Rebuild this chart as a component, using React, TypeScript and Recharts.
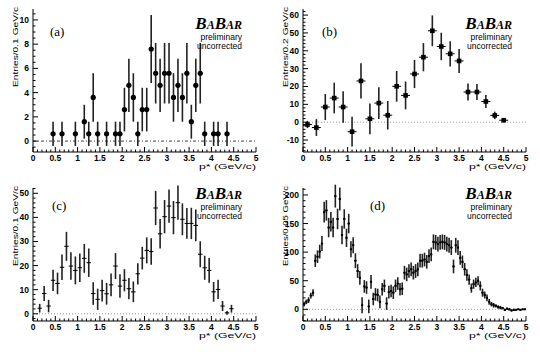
import React from 'react';
import { ScatterChart, Scatter, XAxis, YAxis, ErrorBar, ReferenceLine } from 'recharts';

// (a) Entries / 0.1 GeV/c
const aX = [0.45, 0.65, 0.95, 1.15, 1.25, 1.35, 1.45, 1.65, 1.85, 1.95, 2.05, 2.15, 2.25, 2.35, 2.45, 2.55, 2.65, 2.75, 2.85, 2.95, 3.05, 3.15, 3.25, 3.35, 3.45, 3.55, 3.65, 3.75, 3.85, 4.05, 4.15, 4.35];
const aY = [0.6, 0.6, 0.6, 1.6, 0.6, 3.6, 0.6, 0.6, 0.6, 0.6, 2.6, 4.6, 3.6, 0.6, 2.6, 2.6, 7.6, 5.6, 4.6, 5.6, 5.6, 3.6, 4.6, 3.6, 5.6, 1.6, 4.6, 5.6, 0.6, 0.6, 0.6, 0.6];
const aErr = [1.0, 1.0, 1.0, 1.4, 1.0, 2.0, 1.0, 1.0, 1.0, 1.0, 1.8, 2.2, 2.0, 1.0, 1.8, 1.8, 2.8, 2.5, 2.2, 2.5, 2.5, 2.0, 2.2, 2.0, 2.5, 1.4, 2.2, 2.5, 1.0, 1.0, 1.0, 1.0];

// (b) Entries / 0.2 GeV/c
const bX = [0.1, 0.3, 0.5, 0.7, 0.9, 1.1, 1.3, 1.5, 1.7, 1.9, 2.1, 2.3, 2.5, 2.7, 2.9, 3.1, 3.3, 3.5, 3.7, 3.9, 4.1, 4.3, 4.5];
const bY = [-1.3, -3, 8.5, 13.5, 8.5, -5.3, 23.1, 1.9, 10.7, 3.9, 20.1, 15, 27, 36.4, 51.2, 42.4, 38.3, 34.3, 16.9, 16.9, 11.6, 3.8, 1.1];
const bErr = [2, 4.7, 7.3, 8.6, 8.8, 8.3, 9.9, 8.6, 8.9, 8, 8.6, 7.8, 7.9, 7.9, 8.6, 7.7, 7.1, 6.7, 4.7, 4.5, 3.6, 2.1, 1.2];

// (c) Entries / 0.1 GeV/c
const cX = [0.15, 0.25, 0.35, 0.45, 0.55, 0.65, 0.75, 0.85, 0.95, 1.05, 1.15, 1.25, 1.35, 1.45, 1.55, 1.65, 1.75, 1.85, 1.95, 2.05, 2.15, 2.25, 2.35, 2.45, 2.55, 2.65, 2.75, 2.85, 2.95, 3.05, 3.15, 3.25, 3.35, 3.45, 3.55, 3.65, 3.75, 3.85, 3.95, 4.05, 4.15, 4.25, 4.35, 4.45];
const cY = [2.3, 8.4, 3.2, 13.9, 12.6, 19.3, 28, 19.8, 18, 19.1, 23, 21.2, 8.4, 6, 9.6, 8.3, 12, 19.8, 11.5, 13.9, 10.4, 9.1, 16.6, 23.1, 26.3, 25.8, 43.9, 33.2, 40.3, 44.7, 39.9, 46.1, 39.2, 37.5, 37.5, 36.7, 24.7, 19.1, 18, 9.1, 10.1, 3.2, 0.4, 2.1];
const cErr = [1.8, 3.1, 2.6, 4.4, 4.5, 5.3, 6, 5.7, 5.8, 5.9, 6, 5.9, 4.7, 4.4, 4.5, 4.5, 4.7, 5.4, 4.9, 4.6, 4.4, 4.3, 4.4, 4.7, 5.4, 5.5, 7.1, 6.1, 6.9, 6.9, 6.9, 7.1, 6.6, 6.4, 6.5, 6.6, 5.4, 5, 5.1, 4.1, 4, 2.1, 0.8, 1.6];

// (d) Entries / 0.05 GeV/c, bins from 0 to 5
const dY = [
  9, 13, 16, 24, 29, 85, 92, 101, 115, 170,
  173, 143, 153, 143, 198, 158, 193, 130, 158, 125,
  150, 105, 112, 85, 67, 55, 7, 40, 38, 5,
  48, 18, 26, 25, 13, 35, 41, 10, 30, 32,
  29, 41, 45, 35, 36, 64, 61, 67, 70, 64,
  67, 70, 85, 85, 87, 83, 93, 96, 118, 117,
  114, 117, 118, 117, 114, 112, 108, 75, 112, 108,
  90, 83, 70, 60, 52, 37, 44, 47, 50, 41,
  29, 25, 20, 13, 9, 7, 6, 4, 3, 2,
  -1, 1, 0, -2, -1, -1, 0, -1, 0, 0,
];
const dErr = [
  4, 4, 5, 5, 6, 11, 11, 12, 13, 18,
  18, 17, 17, 17, 20, 18, 20, 16, 17, 16,
  17, 14, 14, 13, 12, 12, 14, 11, 11, 12,
  12, 11, 11, 11, 11, 11, 11, 11, 11, 11,
  11, 11, 11, 11, 11, 12, 12, 12, 12, 12,
  12, 12, 12, 12, 12, 12, 12, 12, 13, 13,
  13, 13, 13, 13, 13, 13, 13, 12, 13, 13,
  12, 11, 11, 10, 9, 8, 8, 8, 8, 8,
  7, 6, 6, 5, 4, 4, 3, 3, 3, 2,
  2, 2, 2, 2, 2, 1, 1, 1, 1, 1,
];
const dX = dY.map((_, i) => 0.025 + 0.05 * i);

const xTicks = Array.from({ length: 51 }, (_, i) => i / 10);

const W = 270;
const H = 176;
const SANS = '"Liberation Sans", Arial, sans-serif';
const SERIF = '"Liberation Serif", "Times New Roman", serif';

const onStep = (v: number, step: number) => Math.abs(v / step - Math.round(v / step)) < 1e-6;
const fmt = (v: number) => String(+v.toFixed(2));

const makeTicks = (lo: number, hi: number, step: number) => {
  const out: number[] = [];
  for (let v = Math.ceil(lo / step) * step; v <= hi + 1e-9; v += step) out.push(+v.toFixed(4));
  return out;
};

const BottomTick = (props: any) => {
  const { x, y, payload } = props;
  const major = onStep(payload.value, 0.5);
  return (
    <g>
      <line x1={x} x2={x} y1={y} y2={y - (major ? 5 : 2.5)} stroke="#000" strokeWidth={1} />
      {major && (
        <text x={x} y={y + 8.5} textAnchor="middle" fontSize={8.5} fontWeight="bold" fontFamily={SANS} fill="#000">
          {fmt(payload.value)}
        </text>
      )}
    </g>
  );
};

const TopTick = (props: any) => {
  const { x, y, payload } = props;
  const major = onStep(payload.value, 0.5);
  return <line x1={x} x2={x} y1={y} y2={y + (major ? 5 : 2.5)} stroke="#000" strokeWidth={1} />;
};

const makeLeftTick = (majorStep: number) => (props: any) => {
  const { x, y, payload } = props;
  const major = onStep(payload.value, majorStep);
  return (
    <g>
      <line x1={x} x2={x + (major ? 5 : 2.5)} y1={y} y2={y} stroke="#000" strokeWidth={1} />
      {major && (
        <text x={x - 4} y={y + 3} textAnchor="end" fontSize={8.5} fontWeight="bold" fontFamily={SANS} fill="#000">
          {fmt(payload.value)}
        </text>
      )}
    </g>
  );
};

const makeRightTick = (majorStep: number) => (props: any) => {
  const { x, y, payload } = props;
  const major = onStep(payload.value, majorStep);
  return <line x1={x} x2={x - (major ? 5 : 2.5)} y1={y} y2={y} stroke="#000" strokeWidth={1} />;
};

const shapes: Record<string, (p: any) => React.ReactElement> = {
  circle: (p) => <circle cx={p.cx} cy={p.cy} r={2.6} fill="#000" />,
  square: (p) => <rect x={p.cx - 2.3} y={p.cy - 2.3} width={4.6} height={4.6} fill="#000" />,
  dot: (p) => <rect x={p.cx - 1} y={p.cy - 1} width={2} height={2} fill="#000" />,
  none: () => <g />,
};

type PanelProps = {
  left: number;
  top: number;
  xs: number[];
  ys: number[];
  errs: number[];
  halfWidth: number;
  yDomain: [number, number];
  yStep: number;
  yMajor: number;
  marker: string;
  tag: string;
  tagX: number;
  tagY: number;
  logoY: number;
  yTitle: string;
  marginTop: number;
  axisH: number;
  zeroDash: string;
  zeroColor: string;
};

const Panel = (p: PanelProps) => {
  const data = p.xs.map((x, i) => ({ x, y: p.ys[i], ey: p.errs[i], ex: p.halfWidth }));
  const yTicks = makeTicks(p.yDomain[0], p.yDomain[1], p.yStep);
  const plotBottom = H - p.axisH;
  return (
    <div style={{ position: 'absolute', left: p.left, top: p.top, width: W, height: H }}>
      <ScatterChart width={W} height={H} margin={{ top: p.marginTop, right: 14, bottom: 0, left: 0 }}>
        <XAxis xAxisId="b" type="number" dataKey="x" domain={[0, 5]} ticks={xTicks} interval={0}
          tickSize={0} tickMargin={0} tickLine={false} tick={BottomTick} height={p.axisH} stroke="#000" allowDataOverflow />
        <XAxis xAxisId="t" orientation="top" type="number" domain={[0, 5]} ticks={xTicks} interval={0}
          tickSize={0} tickMargin={0} tickLine={false} tick={TopTick} height={0} stroke="#000" allowDataOverflow />
        <YAxis yAxisId="l" type="number" dataKey="y" domain={p.yDomain} ticks={yTicks} interval={0}
          tickSize={0} tickMargin={0} tickLine={false} tick={makeLeftTick(p.yMajor)} width={33} stroke="#000" allowDataOverflow />
        <YAxis yAxisId="r" orientation="right" type="number" domain={p.yDomain} ticks={yTicks} interval={0}
          tickSize={0} tickMargin={0} tickLine={false} tick={makeRightTick(p.yMajor)} width={0} stroke="#000" allowDataOverflow />
        <ReferenceLine xAxisId="b" yAxisId="l" y={0} stroke={p.zeroColor} strokeDasharray={p.zeroDash} strokeWidth={1} />
        <Scatter xAxisId="b" yAxisId="l" data={data} dataKey="y" shape={shapes[p.marker]} isAnimationActive={false}>
          <ErrorBar dataKey="ey" direction="y" width={0} stroke="#222" strokeWidth={1.6} isAnimationActive={false} />
          <ErrorBar dataKey="ex" direction="x" width={0} stroke="#000" strokeWidth={1} isAnimationActive={false} />
        </Scatter>
      </ScatterChart>
      <svg width={W} height={H} style={{ position: 'absolute', left: 0, top: 0, pointerEvents: 'none' }}>
        <text x={p.tagX} y={p.tagY} fontFamily={SERIF} fontSize={13} fill="#000">{p.tag}</text>
        <text x={242} y={p.logoY} textAnchor="end" fontFamily={SERIF} fontWeight="bold" fontStyle="italic" fill="#000">
          <tspan fontSize={17}>B</tspan>
          <tspan fontSize={12}>A</tspan>
          <tspan fontSize={17}>B</tspan>
          <tspan fontSize={12}>AR</tspan>
        </text>
        <text x={242} y={p.logoY + 10.5} textAnchor="end" fontFamily={SANS} fontSize={8.5} fill="#000">preliminary</text>
        <text x={242} y={p.logoY + 20} textAnchor="end" fontFamily={SANS} fontSize={8.5} fill="#000">uncorrected</text>
        <text x={18} y={p.marginTop - 2} transform={`rotate(-90, 18, ${p.marginTop - 2})`} textAnchor="end"
          fontFamily={SANS} fontSize={8} fill="#000" textLength={80} lengthAdjust="spacingAndGlyphs">{p.yTitle}</text>
        <text x={256} y={plotBottom + 17} textAnchor="end" fontFamily={SANS} fontSize={7.5} fill="#000"
          textLength={57} lengthAdjust="spacingAndGlyphs">p* (GeV/c)</text>
      </svg>
    </div>
  );
};

export default function App() {
  return (
    <div style={{ position: 'absolute', left: 0, top: 0, width: 540, height: 352, background: '#fff' }}>
      <Panel left={0} top={0} xs={aX} ys={aY} errs={aErr} halfWidth={0.05} yDomain={[-0.9, 10.9]} yStep={0.5} yMajor={2}
        marker="circle" tag="(a)" tagX={50} tagY={36} logoY={29} yTitle="Entries/0.1 GeV/c" marginTop={9} axisH={24}
        zeroDash="3 2 1 2" zeroColor="#444" />
      <Panel left={270} top={0} xs={bX} ys={bY} errs={bErr} halfWidth={0.1} yDomain={[-16.7, 63.4]} yStep={2} yMajor={10}
        marker="square" tag="(b)" tagX={52} tagY={36} logoY={29} yTitle="Entries/0.2 GeV/c" marginTop={9} axisH={24}
        zeroDash="1 2" zeroColor="#999" />
      <Panel left={0} top={176} xs={cX} ys={cY} errs={cErr} halfWidth={0.05} yDomain={[-3, 52.2]} yStep={2} yMajor={10}
        marker="none" tag="(c)" tagX={52} tagY={34} logoY={23} yTitle="Entries/0.1 GeV/c" marginTop={12} axisH={31}
        zeroDash="1 2" zeroColor="#999" />
      <Panel left={270} top={176} xs={dX} ys={dY} errs={dErr} halfWidth={0.025} yDomain={[-20.5, 212.2]} yStep={10} yMajor={50}
        marker="dot" tag="(d)" tagX={100} tagY={34} logoY={23} yTitle="Entries/0.05 GeV/c" marginTop={12} axisH={31}
        zeroDash="1 2" zeroColor="#999" />
    </div>
  );
}
